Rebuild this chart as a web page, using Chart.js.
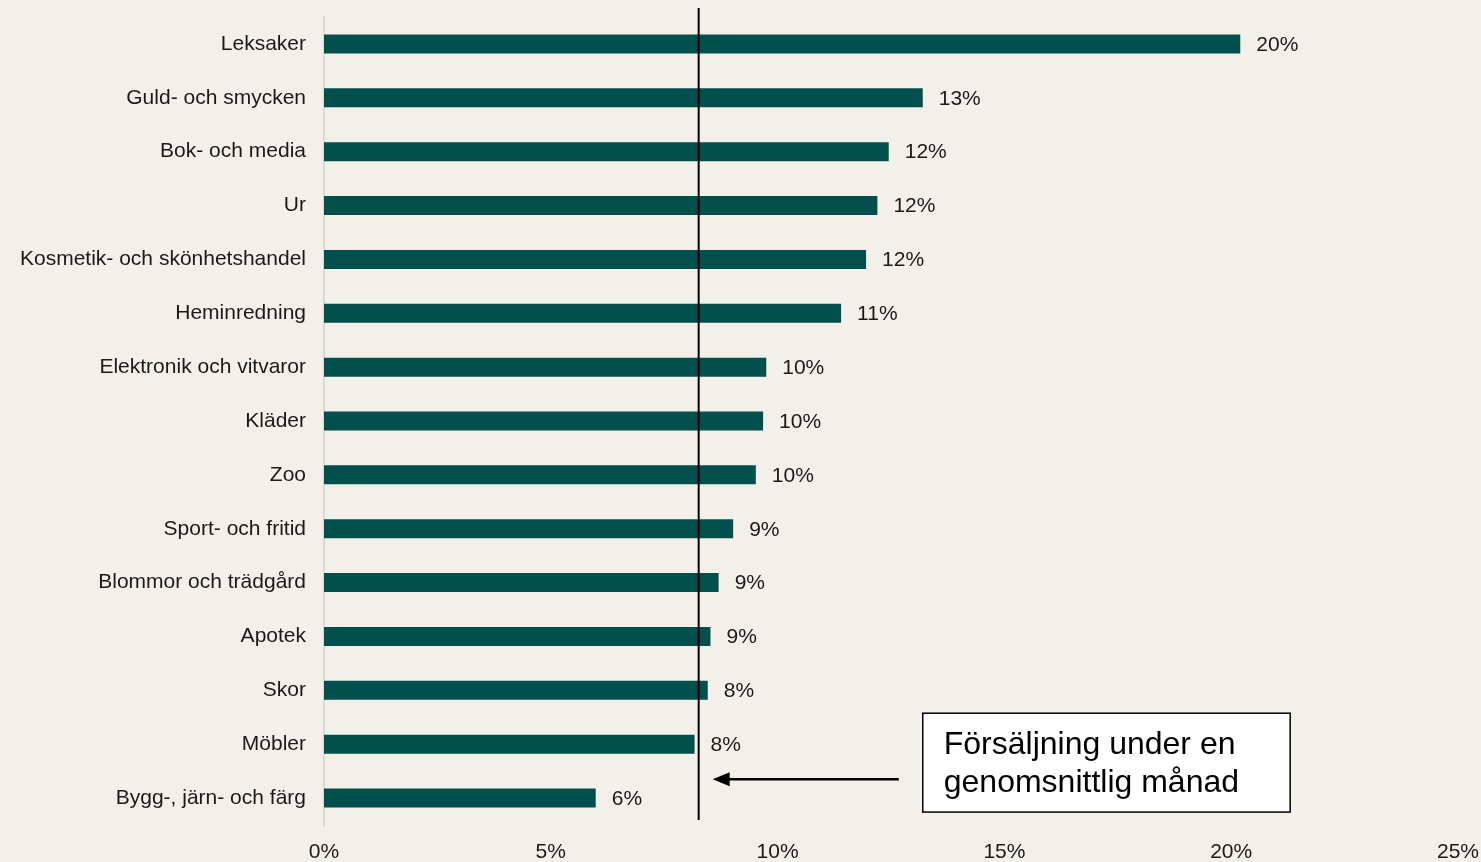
<!DOCTYPE html>
<html>
<head>
<meta charset="utf-8">
<script src="https://cdn.jsdelivr.net/npm/chart.js@4"></script>
<style>
  html, body { margin: 0; padding: 0; background: #f3efe9; }
  #wrap { width: 1481px; height: 862px; }
</style>
</head>
<body>
<div id="wrap"><canvas id="myChart" width="1481" height="862"></canvas></div>
<script>
var kategorier = ['Leksaker', 'Guld- och smycken', 'Bok- och media', 'Ur', 'Kosmetik- och skönhetshandel',
    'Heminredning', 'Elektronik och vitvaror', 'Kläder', 'Zoo', 'Sport- och fritid',
    'Blommor och trädgård', 'Apotek', 'Skor', 'Möbler', 'Bygg-, järn- och färg'];
var andelar = [20.2, 13.2, 12.45, 12.2, 11.95, 11.4, 9.75, 9.68, 9.52, 9.02, 8.7, 8.52, 8.46, 8.17, 5.99];
var snittManad = 8.26;
var xTicks = [0, 5, 10, 15, 20, 25];
var rutaText = ['Försäljning under en', 'genomsnittlig månad'];

var font = "'Liberation Sans', Arial, sans-serif";

// etiketter vid staplarnas slut
var stapelEtiketter = {
    id: 'stapelEtiketter',
    afterDatasetsDraw: function(chart){
        var c = chart.ctx;
        var meta = chart.getDatasetMeta(0);
        c.save();
        c.font = '21px ' + font;
        c.fillStyle = '#1a1a1a';
        c.textBaseline = 'middle';
        meta.data.forEach(function(bar, i){
            c.fillText(Math.round(andelar[i]) + '%', bar.x + 16, bar.y + 1);
        });
        c.restore();
    }
};

// snittlinje, pil och textruta
var snittLinje = {
    id: 'snittLinje',
    afterDraw: function(chart){
        var c = chart.ctx;
        var xs = chart.scales.x;
        var area = chart.chartArea;
        var meta = chart.getDatasetMeta(0);
        var x = xs.getPixelForValue(snittManad);
        c.save();
        c.strokeStyle = '#000';
        c.lineWidth = 2;
        c.beginPath();
        c.moveTo(x, area.top - 9);
        c.lineTo(x, area.bottom - 5);
        c.stroke();

        // ruta
        var last = meta.data[meta.data.length - 1];
        var prev = meta.data[meta.data.length - 2];
        var bx = xs.getPixelForValue(13.2);
        var bx2 = xs.getPixelForValue(21.3);
        var by = prev.y - 31;
        var by2 = last.y + 14;
        c.fillStyle = '#fff';
        c.fillRect(bx, by, bx2 - bx, by2 - by);
        c.lineWidth = 1.5;
        c.strokeRect(bx, by, bx2 - bx, by2 - by);
        c.fillStyle = '#000';
        c.font = '32px ' + font;
        c.textBaseline = 'middle';
        c.fillText(rutaText[0], bx + 21, by + 32);
        c.fillText(rutaText[1], bx + 21, by + 70);

        // pil
        var ay = (prev.y + last.y) / 2 + 8;
        var ax1 = bx - 24;
        var ax2 = x + 14;
        c.lineWidth = 2.5;
        c.beginPath();
        c.moveTo(ax1, ay);
        c.lineTo(ax2 + 12, ay);
        c.stroke();
        c.beginPath();
        c.moveTo(ax2, ay);
        c.lineTo(ax2 + 17, ay - 7);
        c.lineTo(ax2 + 17, ay + 7);
        c.closePath();
        c.fill();
        c.restore();
    }
};

var bg = {
    id: 'bg',
    beforeDraw: function(chart){
        var c = chart.ctx;
        c.save();
        c.fillStyle = '#f3efe9';
        c.fillRect(0, 0, chart.width, chart.height);
        c.restore();
    }
};

var ctx = document.getElementById('myChart').getContext('2d');
var myChart = new Chart(ctx, {
    type: 'bar',
    data: {
        labels: kategorier,
        datasets: [{
            data: andelar,
            backgroundColor: '#02504d',
            borderWidth: 0,
            barPercentage: 0.706,
            categoryPercentage: 0.5
        }]
    },
    options: {
        indexAxis: 'y',
        responsive: false,
        animation: false,
        layout: { padding: { top: 17, right: 23, left: 0, bottom: 0 } },
        plugins: { legend: { display: false }, tooltip: { enabled: false } },
        scales: {
            x: {
                min: 0,
                max: 25,
                afterBuildTicks: function(scale){
                    scale.ticks = xTicks.map(function(v){ return { value: v }; });
                },
                afterFit: function(scale){
                    scale.height = 37;
                    scale.paddingLeft = 0;
                    scale.paddingRight = 0;
                },
                grid: { display: false, drawTicks: false },
                border: { display: false },
                ticks: {
                    padding: 15,
                    maxRotation: 0,
                    color: '#1a1a1a',
                    font: { family: font, size: 21 },
                    callback: function(v){ return v + '%'; }
                }
            },
            y: {
                afterFit: function(scale){
                    scale.width = 324;
                    scale.paddingTop = 0;
                    scale.paddingBottom = 0;
                },
                grid: { display: false, drawTicks: false },
                border: { display: true, color: '#d9d9d9', width: 2 },
                ticks: {
                    padding: 18,
                    color: '#1a1a1a',
                    font: { family: font, size: 21 }
                }
            }
        }
    },
    plugins: [bg, stapelEtiketter, snittLinje]
});
</script>
</body>
</html>
